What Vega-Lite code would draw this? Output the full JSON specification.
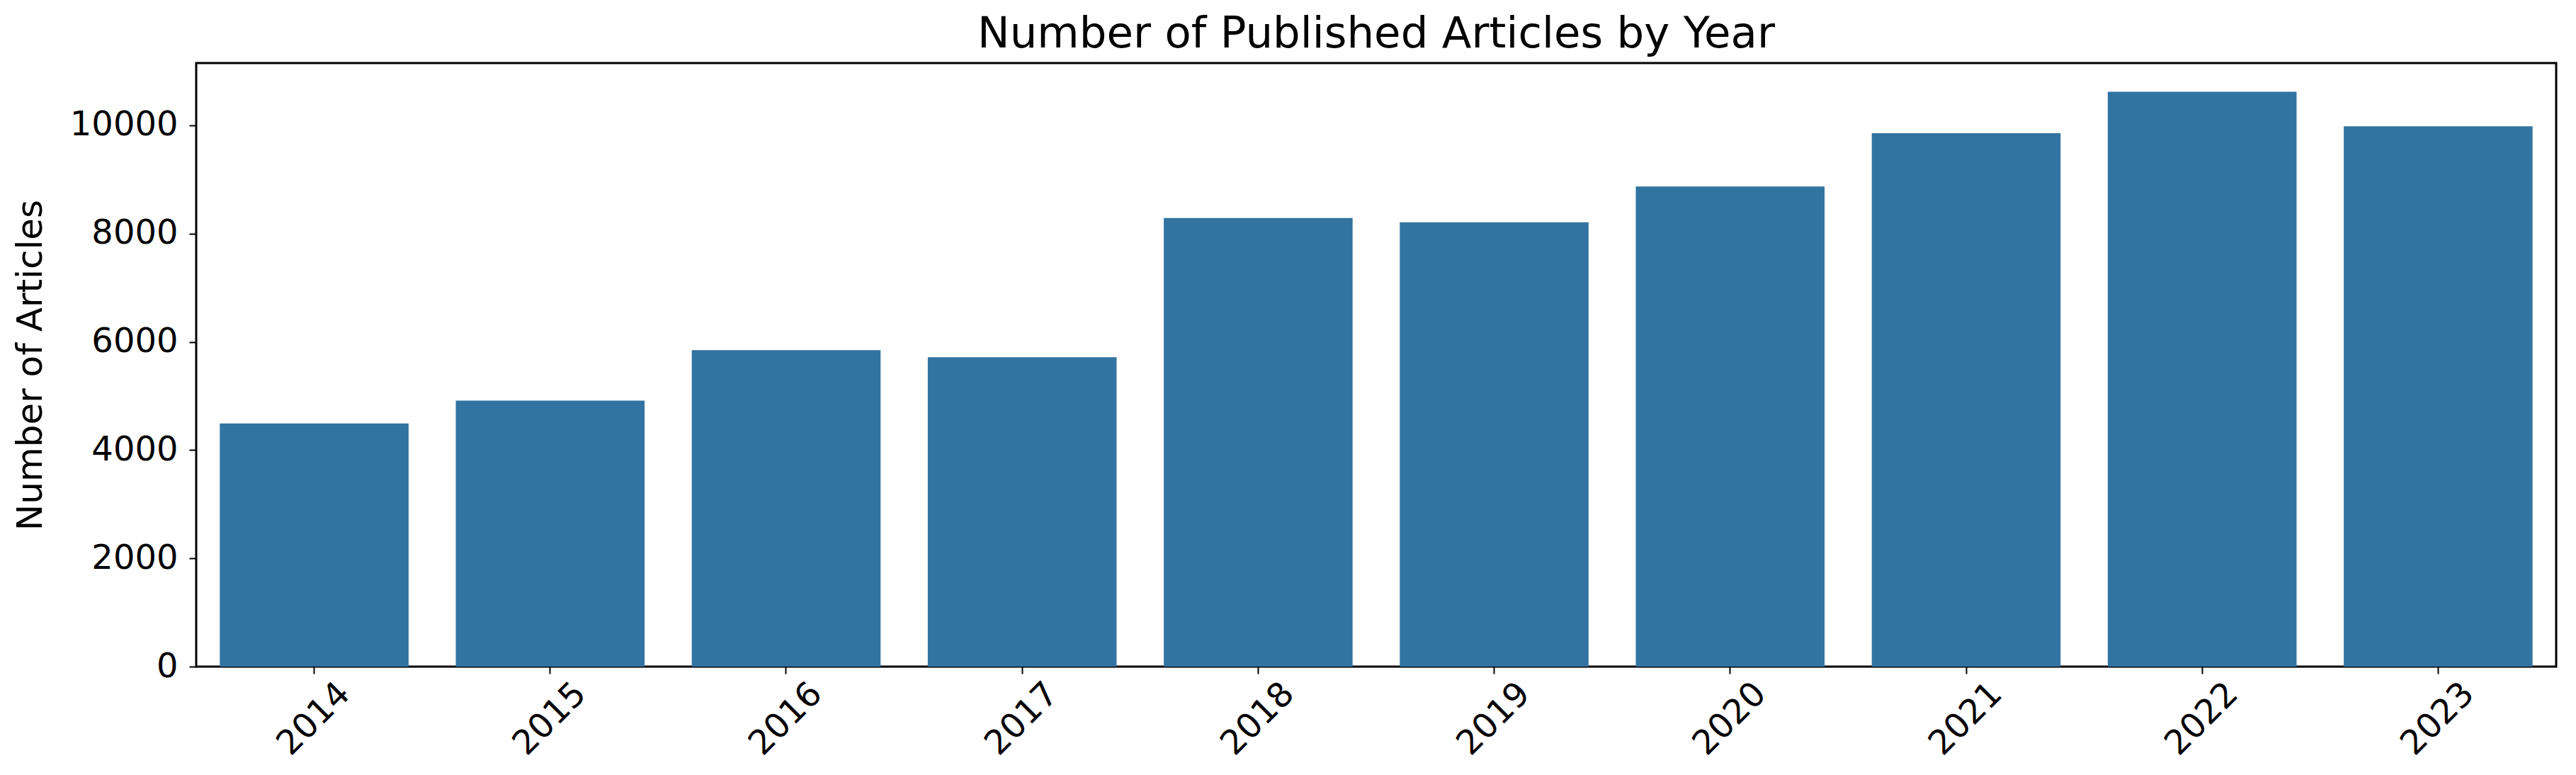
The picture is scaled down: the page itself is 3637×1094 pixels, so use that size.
{
  "$schema": "https://vega.github.io/schema/vega-lite/v6.json",
  "width": 3332,
  "height": 852,
  "autosize": {"type": "none"},
  "padding": {"left": 277, "top": 89, "right": 28, "bottom": 153},
  "background": "white",
  "title": {
    "text": "Number of Published Articles by Year",
    "font": "DejaVu Sans",
    "fontSize": 61,
    "fontWeight": "normal",
    "color": "black",
    "anchor": "middle",
    "baseline": "alphabetic",
    "offset": 8,
    "dy": 47
  },
  "data": {
    "values": [
      {"year": "2014", "articles": 4492},
      {"year": "2015", "articles": 4916},
      {"year": "2016", "articles": 5847},
      {"year": "2017", "articles": 5717},
      {"year": "2018", "articles": 8288},
      {"year": "2019", "articles": 8210},
      {"year": "2020", "articles": 8872},
      {"year": "2021", "articles": 9855},
      {"year": "2022", "articles": 10620},
      {"year": "2023", "articles": 9984}
    ]
  },
  "mark": {"type": "bar", "color": "#3274a1"},
  "encoding": {
    "x": {
      "field": "year",
      "type": "nominal",
      "sort": null,
      "scale": {"paddingInner": 0.2, "paddingOuter": 0.1},
      "axis": {
        "title": null,
        "labelAngle": -45,
        "labelAlign": "center",
        "labelBaseline": "middle",
        "labelPadding": 64,
        "tickSize": 10,
        "tickWidth": 2,
        "tickColor": "black",
        "domain": false,
        "labelFont": "DejaVu Sans",
        "labelFontSize": 48,
        "labelColor": "black"
      }
    },
    "y": {
      "field": "articles",
      "type": "quantitative",
      "scale": {"domain": [0, 11151], "nice": false},
      "axis": {
        "title": "Number of Articles",
        "values": [0, 2000, 4000, 6000, 8000, 10000],
        "format": "d",
        "grid": false,
        "domain": false,
        "tickSize": 10,
        "tickWidth": 2,
        "tickColor": "black",
        "labelPadding": 16,
        "labelFont": "DejaVu Sans",
        "labelFontSize": 48,
        "labelColor": "black",
        "titleFont": "DejaVu Sans",
        "titleFontSize": 50,
        "titleFontWeight": "normal",
        "titleColor": "black",
        "titlePadding": 30
      }
    }
  },
  "config": {
    "view": {"stroke": "black", "strokeWidth": 3}
  }
}
